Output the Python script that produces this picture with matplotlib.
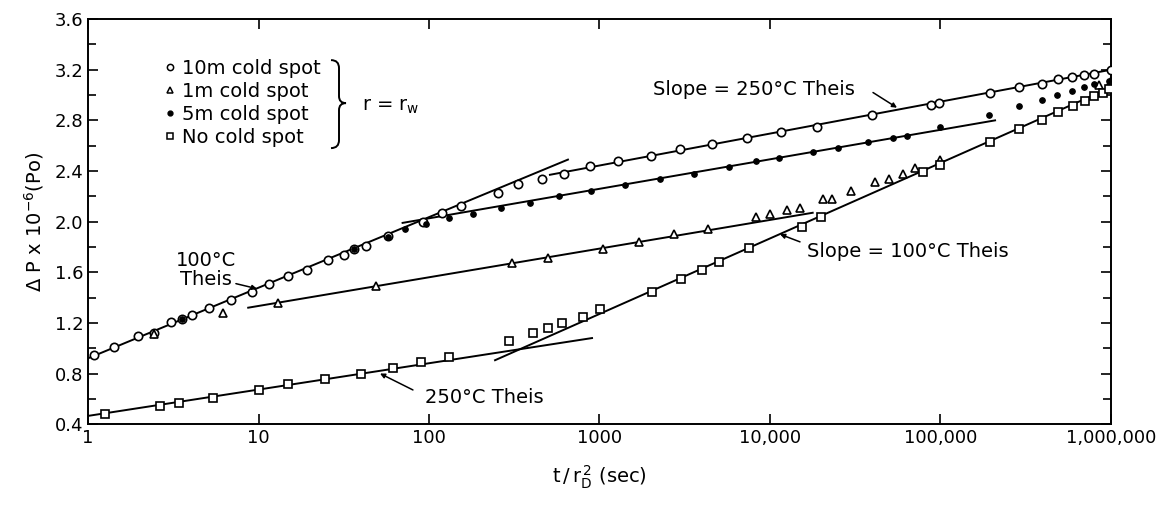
import matplotlib
matplotlib.use('Agg')
import matplotlib.pyplot as plt
from matplotlib.lines import Line2D
from matplotlib.path import Path
from matplotlib.patches import PathPatch
from matplotlib.ticker import FixedLocator, NullLocator, FixedFormatter

plt.rcParams['font.family'] = ['DejaVu Sans']
plt.rcParams['font.size'] = 13

# 10m cold spot (open circles)
x_10m = [1.08, 1.42, 1.97, 2.44, 3.07, 3.56, 4.07, 5.13, 6.88, 9.16, 11.5, 14.9, 19.3,
         25.5, 31.7, 36.3, 42.7, 57.5, 92, 119, 154, 254, 333, 460, 620, 879, 1283,
         2000, 2966, 4570, 7330, 11600, 18900, 39600, 87900, 98000, 195000, 290000,
         393000, 489000, 590000, 695000, 795000, 1000000]
y_10m = [0.95, 1.01, 1.10, 1.12, 1.21, 1.23, 1.26, 1.32, 1.38, 1.44, 1.51, 1.57, 1.62,
         1.70, 1.74, 1.78, 1.81, 1.89, 2.00, 2.07, 2.12, 2.23, 2.30, 2.34, 2.38, 2.44, 2.48,
         2.52, 2.57, 2.61, 2.66, 2.71, 2.75, 2.84, 2.92, 2.94, 3.02, 3.06,
         3.09, 3.13, 3.14, 3.16, 3.17, 3.20]

# 1m cold spot (open triangles)
x_1m = [2.44, 6.2, 13.0, 48.6, 307, 499, 1050, 1700, 2730, 4330, 8280, 10000, 12500,
        14900, 20400, 23000, 29900, 41500, 49800, 60000, 71000, 99000, 850000, 1000000]
y_1m = [1.11, 1.28, 1.36, 1.49, 1.67, 1.71, 1.78, 1.84, 1.90, 1.94, 2.04, 2.06, 2.09,
        2.11, 2.18, 2.18, 2.24, 2.31, 2.34, 2.38, 2.42, 2.49, 3.08, 3.11]

# 5m cold spot (filled dots)
x_5m = [3.56, 36.3, 57.5, 72, 96, 131, 181, 264, 391, 578, 891, 1410, 2260, 3580, 5750,
        8280, 11300, 17800, 25000, 37600, 52600, 63300, 99300, 193000, 289000, 393000,
        482000, 590000, 695000, 795000, 980000]
y_5m = [1.23, 1.78, 1.88, 1.94, 1.98, 2.03, 2.06, 2.11, 2.15, 2.20, 2.24, 2.29, 2.34, 2.38,
        2.43, 2.48, 2.50, 2.55, 2.58, 2.63, 2.66, 2.68, 2.75, 2.84, 2.91, 2.96,
        3.00, 3.03, 3.06, 3.09, 3.11]

# No cold spot (open squares)
x_none = [1.26, 2.64, 3.42, 5.4, 10, 14.9, 24.5, 40, 61.5, 89.8, 131, 295, 406, 498, 600,
          800, 1005, 2030, 3000, 4000, 5000, 7500, 15400, 20000, 79000, 99000, 195000,
          290000, 393000, 490000, 600000, 700000, 795000, 900000, 970000]
y_none = [0.48, 0.54, 0.565, 0.61, 0.67, 0.715, 0.76, 0.80, 0.84, 0.89, 0.93, 1.06, 1.12,
          1.16, 1.20, 1.25, 1.31, 1.44, 1.55, 1.62, 1.68, 1.79, 1.96, 2.04, 2.39, 2.45,
          2.63, 2.73, 2.80, 2.87, 2.91, 2.95, 2.99, 3.02, 3.05]

# fitted Theis straight lines (end points)
fit_lines = [
    ([1, 653], [0.92, 2.49]),          # 100C Theis, 10m
    ([512, 1000000], [2.37, 3.20]),    # 250C slope, 10m
    ([70, 209000], [1.99, 2.80]),      # 5m
    ([8.7, 17800], [1.32, 2.07]),      # 1m
    ([1, 904], [0.465, 1.08]),         # 250C Theis, no cold spot
    ([244, 1000000], [0.905, 3.06]),   # 100C slope, no cold spot
]

xticks = [1, 10, 100, 1000, 10000, 100000, 1000000]
xtick_labels = ['1', '10', '100', '1000', '10,000', '100,000', '1,000,000']
yticks = [0.4, 0.8, 1.2, 1.6, 2.0, 2.4, 2.8, 3.2, 3.6]

fig = plt.figure(figsize=(11.58, 5.11), dpi=100)
ax = fig.add_axes([0.076, 0.170, 0.8834, 0.7926])

for xs, ys in fit_lines:
    ax.plot(xs, ys, color='black', lw=1.4, zorder=2)

mk = dict(linestyle='none', color='black', zorder=3)
ax.plot(x_10m, y_10m, marker='o', ms=6, mfc='white', mew=1.2, **mk)
ax.plot(x_1m, y_1m, marker='^', ms=6, mfc='white', mew=1.2, **mk)
ax.plot(x_5m, y_5m, marker='o', ms=4, mfc='black', mew=0.8, **mk)
ax.plot(x_none, y_none, marker='s', ms=5.5, mfc='white', mew=1.2, **mk)

ax.set_xscale('log')
ax.set_xlim(1, 1000000)
ax.set_ylim(0.4, 3.6)
ax.xaxis.set_major_locator(FixedLocator(xticks))
ax.xaxis.set_major_formatter(FixedFormatter(xtick_labels))
ax.xaxis.set_minor_locator(NullLocator())
ax.set_yticks(yticks)
ax.set_yticklabels(['%.1f' % v for v in yticks])
ax.set_yticks([0.6, 1.0, 1.4, 1.8, 2.2, 2.6, 3.0, 3.4], minor=True)
ax.tick_params(which='both', direction='in', top=True, right=True, width=1.2, labelsize=13)
ax.tick_params(which='major', length=7)
ax.tick_params(which='minor', length=6)
for s in ax.spines.values():
    s.set_linewidth(1.4)

ax.set_xlabel(r'$\mathregular{t\,/\,r_D^{\,2}}$ (sec)', fontsize=14, labelpad=12)
ax.set_ylabel(r'$\Delta$ P x 10$^{-6}$(Po)', fontsize=14, labelpad=6)

# legend
handles = [
    Line2D([], [], marker='o', ms=4.5, mfc='white', mew=1.1, color='black', ls='none'),
    Line2D([], [], marker='^', ms=4.5, mfc='white', mew=1.1, color='black', ls='none'),
    Line2D([], [], marker='o', ms=3.5, mfc='black', color='black', ls='none'),
    Line2D([], [], marker='s', ms=4, mfc='white', mew=1.1, color='black', ls='none'),
]
labels = ['10m cold spot', '1m cold spot', '5m cold spot', 'No cold spot']
ax.legend(handles, labels, loc='upper left', bbox_to_anchor=(0.065, 0.925),
          frameon=False, handlelength=0.6, handletextpad=0.3, labelspacing=0.2,
          borderpad=0, fontsize=14)

# curly brace next to the legend (drawn in pixel positions of the figure)
def px(x, y):
    return ((x - 88) / 1023, (424 - y) / 405)

brace = Path([px(331, 60), px(339, 60), px(339, 68), px(339, 96),
              px(339, 103), px(346, 103), px(339, 103), px(339, 110),
              px(339, 140), px(339, 148), px(331, 148)],
             [Path.MOVETO, Path.CURVE3, Path.CURVE3, Path.LINETO,
              Path.CURVE3, Path.CURVE3, Path.CURVE3, Path.CURVE3,
              Path.LINETO, Path.CURVE3, Path.CURVE3])
ax.add_patch(PathPatch(brace, transform=ax.transAxes, fill=False, lw=1.4,
                       edgecolor='black'))
ax.text(0.268, 0.785, r'r = r$_{\mathregular{w}}$', transform=ax.transAxes,
        fontsize=14, ha='left', va='center')

# annotations
arrow = dict(arrowstyle='-|>', color='black', lw=1.1, mutation_scale=7,
             shrinkA=0, shrinkB=0)
ax.text(2060, 3.04, 'Slope = 250°C Theis', ha='left', va='center', fontsize=14)
ax.annotate('', xy=(55600, 2.90), xytext=(40200, 3.02), arrowprops=arrow)

ax.text(4.92, 1.62, '100°C\nTheis', ha='center', va='center', fontsize=14,
        linespacing=1.0)
ax.annotate('', xy=(9.8, 1.47), xytext=(7.37, 1.51), arrowprops=arrow)

ax.text(210, 0.614, '250°C Theis', ha='center', va='center', fontsize=14)
ax.annotate('', xy=(51.6, 0.80), xytext=(80.5, 0.67), arrowprops=arrow)

ax.text(16500, 1.76, 'Slope = 100°C Theis', ha='left', va='center', fontsize=14)
ax.annotate('', xy=(11450, 1.90), xytext=(15000, 1.84), arrowprops=arrow)

fig.savefig('out.png', dpi=100)
